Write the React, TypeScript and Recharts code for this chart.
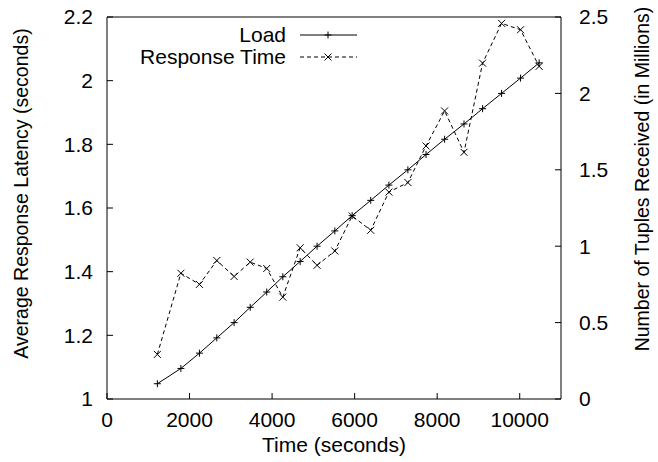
import React from 'react';
import { LineChart, Line, XAxis, YAxis, Legend, Label } from 'recharts';

// sample times (seconds)
const times = [
  1220, 1790, 2240, 2660, 3080, 3470, 3870, 4260, 4680, 5090, 5520,
  5940, 6390, 6830, 7290, 7730, 8180, 8650, 9100, 9560, 10020, 10470,
];
// tuples received, in millions (right axis)
const loadMillions = [
  0.1, 0.2, 0.3, 0.4, 0.5, 0.6, 0.7, 0.8, 0.9, 1.0, 1.1,
  1.2, 1.3, 1.4, 1.5, 1.6, 1.7, 1.8, 1.9, 2.0, 2.1, 2.2,
];
// average response latency, seconds (left axis)
const responseSeconds = [
  1.14, 1.395, 1.36, 1.435, 1.385, 1.43, 1.41, 1.32, 1.475, 1.42, 1.465,
  1.575, 1.53, 1.65, 1.68, 1.795, 1.905, 1.775, 2.055, 2.18, 2.16, 2.045,
];

const timeTicks = [0, 2000, 4000, 6000, 8000, 10000];
const latencyTicks = [1, 1.2, 1.4, 1.6, 1.8, 2, 2.2];
const tupleTicks = [0, 0.5, 1, 1.5, 2, 2.5];

const data = times.map((t, i) => ({
  time: t,
  load: loadMillions[i],
  response: responseSeconds[i],
}));

const FONT = '"Liberation Sans", Arial, Helvetica, sans-serif';
const tickStyle = { fill: '#000', fontSize: 21, fontFamily: FONT };
const axisStroke = { stroke: '#000', strokeWidth: 1 };

const PlusDot = (props: any) => {
  const { cx, cy, index } = props;
  if (cx == null || cy == null) return <g key={`pl-${index}`} />;
  return (
    <path
      key={`pl-${index}`}
      d={`M${cx - 3.5},${cy}h7M${cx},${cy - 3.5}v7`}
      stroke="#000"
      strokeWidth={1}
      fill="none"
    />
  );
};

const CrossDot = (props: any) => {
  const { cx, cy, index } = props;
  if (cx == null || cy == null) return <g key={`cr-${index}`} />;
  return (
    <path
      key={`cr-${index}`}
      d={`M${cx - 3.5},${cy - 3.5}l7,7M${cx - 3.5},${cy + 3.5}l7,-7`}
      stroke="#000"
      strokeWidth={1}
      fill="none"
    />
  );
};

const legendRows = [
  { name: 'Load', dash: undefined as string | undefined, Mark: PlusDot },
  { name: 'Response Time', dash: '4 3', Mark: CrossDot },
];

const LegendContent = () => (
  <svg width={270} height={50} style={{ display: 'block' }}>
    {legendRows.map((row, i) => {
      const cy = 15 + i * 22;
      return (
        <g key={row.name}>
          <text x={186} y={cy} dy="0.35em" textAnchor="end" fontSize={21} fontFamily={FONT} fill="#000">
            {row.name}
          </text>
          <line x1={200} x2={257} y1={cy} y2={cy} stroke="#000" strokeWidth={1} strokeDasharray={row.dash} />
          <row.Mark cx={228} cy={cy} index={i} />
        </g>
      );
    })}
  </svg>
);

// rotated side titles, placed from the axis box
const SideTitle = (props: any) => {
  const { viewBox, value, dx, dy } = props;
  const x = viewBox.x + dx;
  const y = viewBox.y + viewBox.height / 2 + dy;
  return (
    <text
      x={x}
      y={y}
      dy="0.35em"
      transform={`rotate(-90, ${x}, ${y})`}
      textAnchor="middle"
      fontSize={19.5}
      fontFamily={FONT}
      fill="#000"
    >
      {value}
    </text>
  );
};

export default function App() {
  return (
    <div style={{ position: 'absolute', left: 0, top: 0, background: '#fff' }}>
      <LineChart width={658} height={462} data={data} margin={{ top: 0, right: 0, bottom: 0, left: 0 }}>
        <XAxis
          xAxisId="top"
          orientation="top"
          type="number"
          dataKey="time"
          domain={[0, 11000]}
          ticks={timeTicks}
          height={17}
          tick={false}
          tickSize={-6}
          axisLine={axisStroke}
          tickLine={axisStroke}
        />
        <XAxis
          xAxisId="bottom"
          type="number"
          dataKey="time"
          domain={[0, 11000]}
          ticks={timeTicks}
          height={63}
          tickSize={-6}
          tickMargin={19}
          tick={tickStyle}
          axisLine={axisStroke}
          tickLine={axisStroke}
        >
          <Label
            value="Time (seconds)"
            position="insideBottom"
            offset={10}
            style={{ fill: '#000', fontSize: 21, fontFamily: FONT }}
          />
        </XAxis>
        <YAxis
          yAxisId="left"
          type="number"
          domain={[1, 2.2]}
          ticks={latencyTicks}
          width={107}
          tickSize={-6}
          tickMargin={20}
          tick={tickStyle}
          axisLine={axisStroke}
          tickLine={axisStroke}
        >
          <Label
            value="Average Response Latency (seconds)"
            content={(p: any) => <SideTitle {...p} value="Average Response Latency (seconds)" dx={21} dy={-14.5} />}
          />
        </YAxis>
        <YAxis
          yAxisId="right"
          orientation="right"
          type="number"
          domain={[0, 2.5]}
          ticks={tupleTicks}
          width={97}
          tickSize={-6}
          tickMargin={24}
          tick={tickStyle}
          axisLine={axisStroke}
          tickLine={axisStroke}
        >
          <Label
            value="Number of Tuples Received (in Millions)"
            content={(p: any) => <SideTitle {...p} value="Number of Tuples Received (in Millions)" dx={81} dy={-29} />}
          />
        </YAxis>
        <Legend
          layout="vertical"
          align="center"
          verticalAlign="middle"
          wrapperStyle={{ left: 100, top: 20, width: 270, height: 50 }}
          content={() => <LegendContent />}
        />
        <Line
          xAxisId="bottom"
          yAxisId="right"
          dataKey="load"
          name="Load"
          type="linear"
          stroke="#000"
          strokeWidth={1}
          dot={PlusDot}
          activeDot={false}
          isAnimationActive={false}
        />
        <Line
          xAxisId="bottom"
          yAxisId="left"
          dataKey="response"
          name="Response Time"
          type="linear"
          stroke="#000"
          strokeWidth={1}
          strokeDasharray="4 3"
          dot={CrossDot}
          activeDot={false}
          isAnimationActive={false}
        />
      </LineChart>
    </div>
  );
}
